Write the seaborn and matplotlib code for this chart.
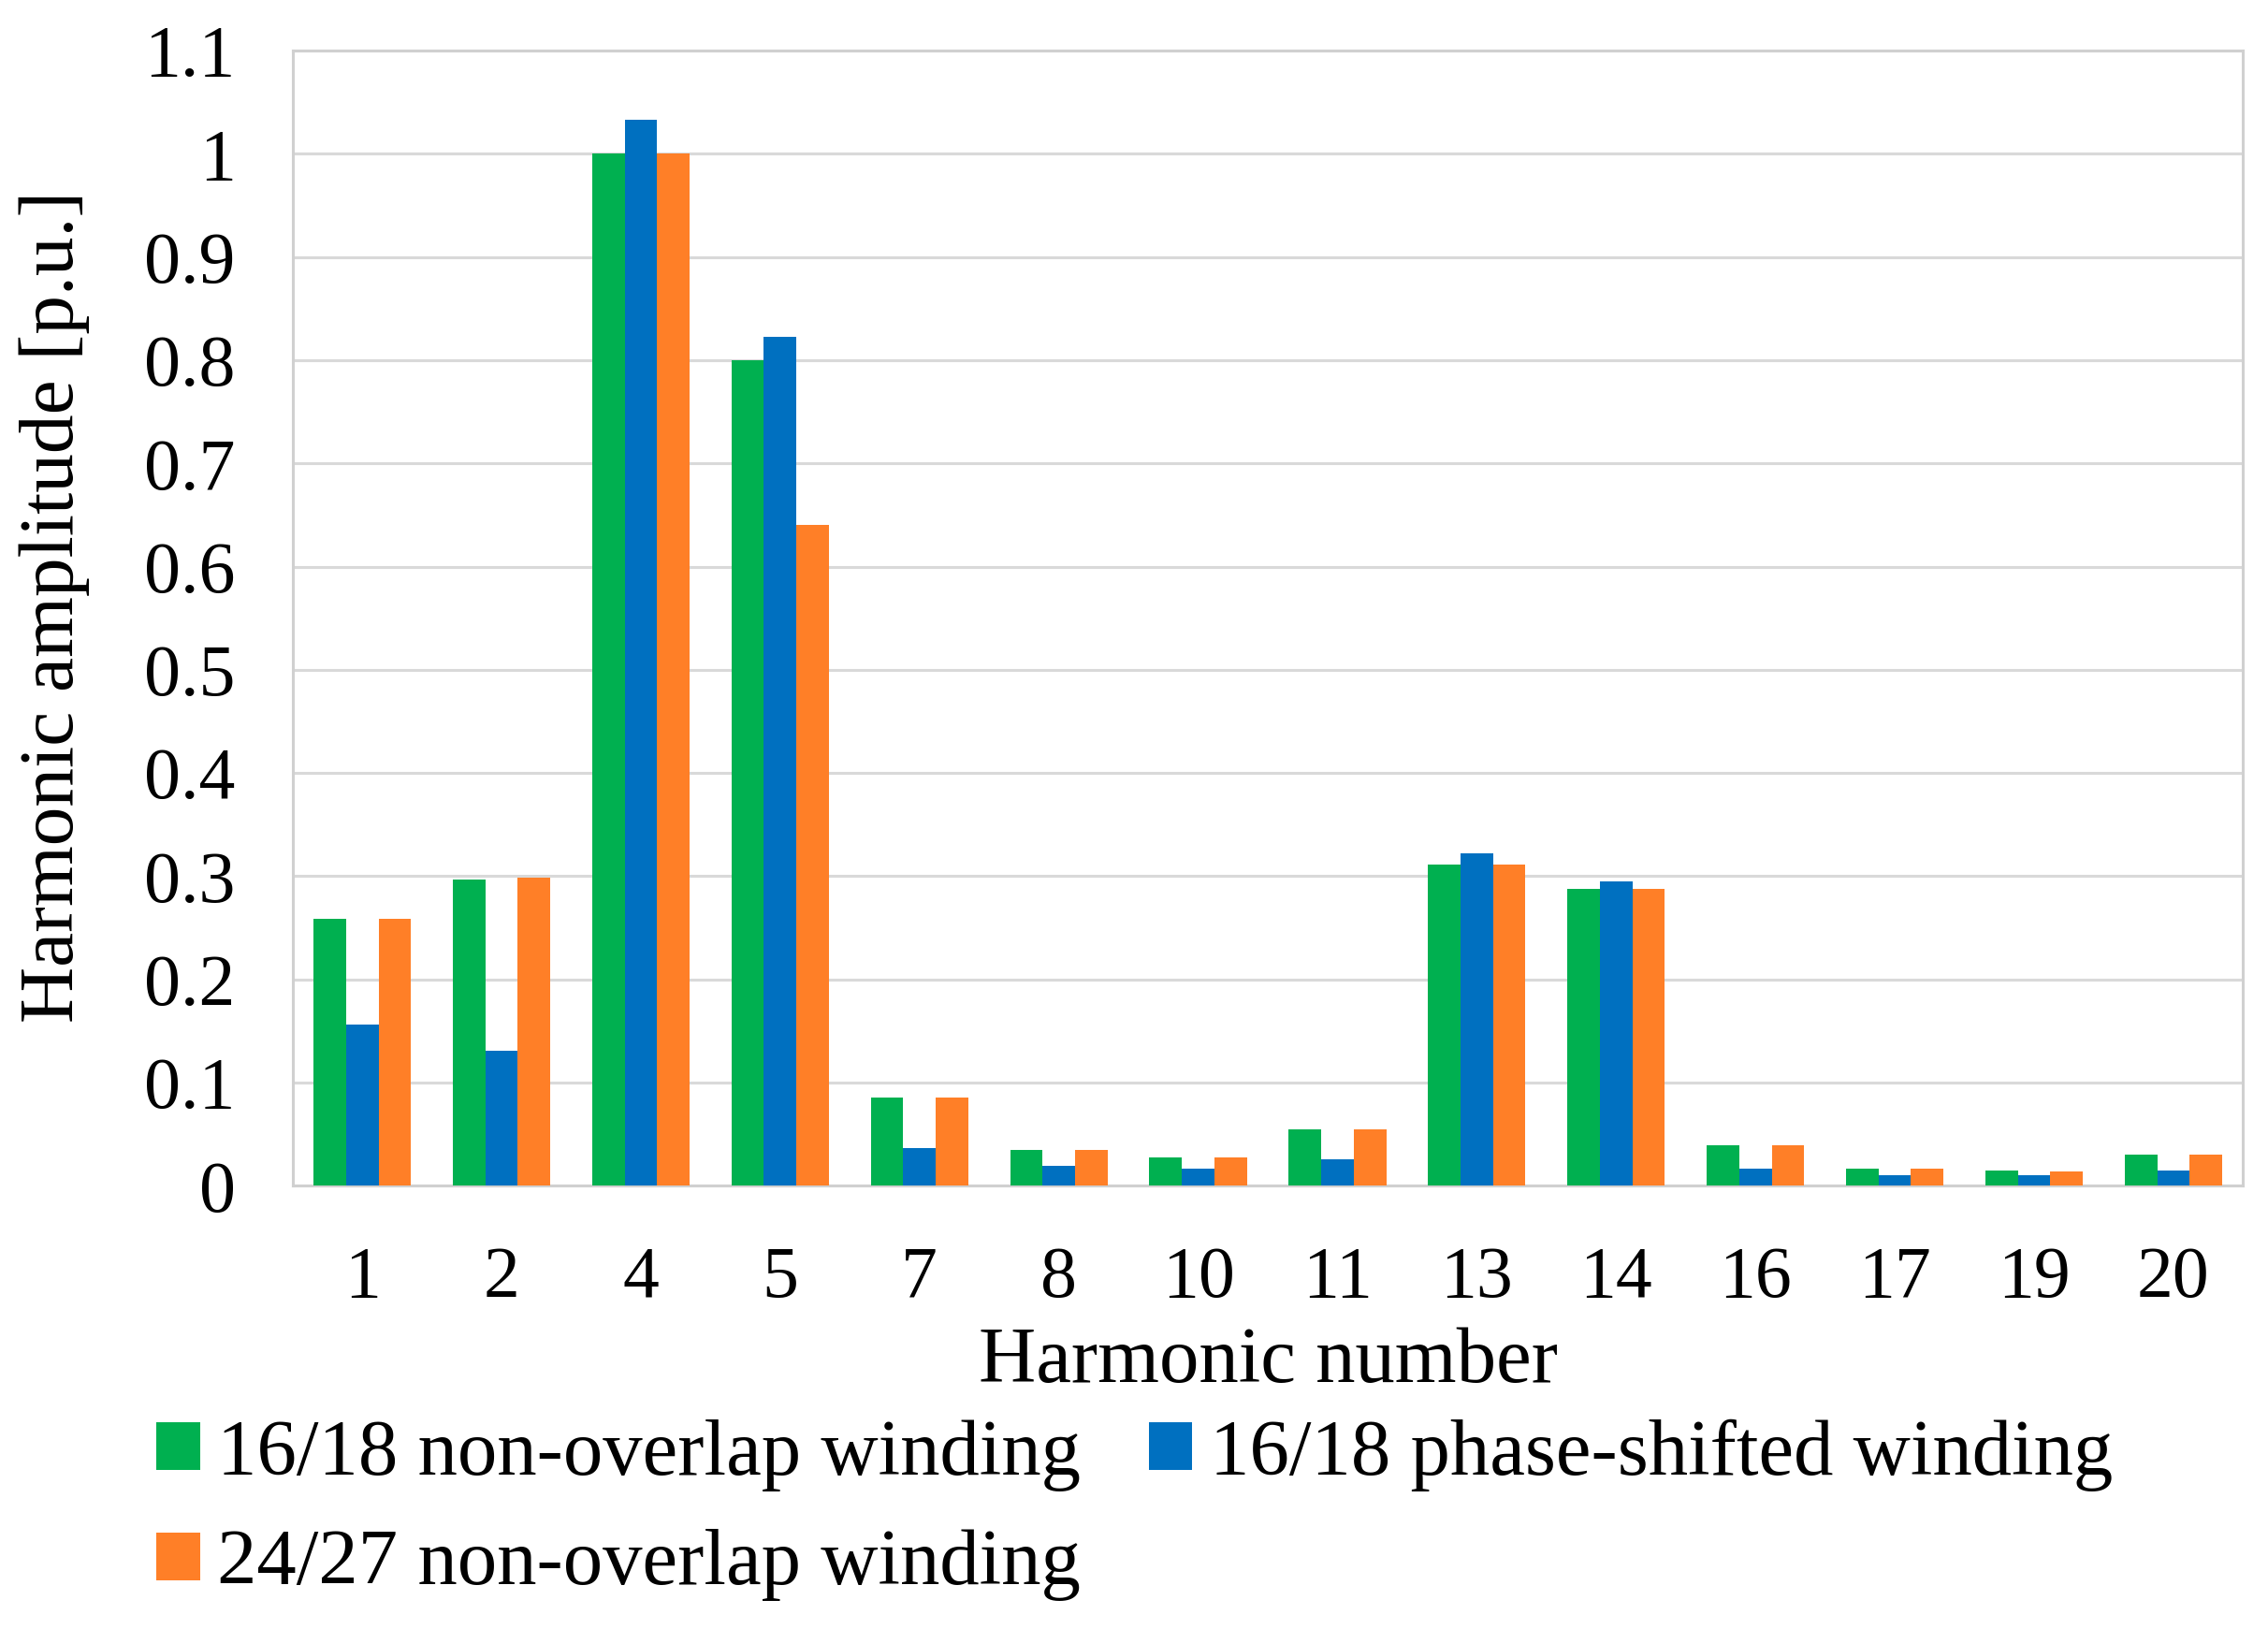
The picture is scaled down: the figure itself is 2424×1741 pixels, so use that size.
import numpy as np
import pandas as pd
import seaborn as sns
from matplotlib import pyplot as plt

harmonics = ["1", "2", "4", "5", "7", "8", "10", "11", "13", "14", "16", "17", "19", "20"]
non_overlap_16_18 = [0.259, 0.297, 1.0, 0.80, 0.086, 0.035, 0.028, 0.055, 0.311, 0.288, 0.039, 0.017, 0.015, 0.030]
phase_shifted_16_18 = [0.156, 0.131, 1.033, 0.823, 0.037, 0.019, 0.017, 0.026, 0.322, 0.295, 0.017, 0.010, 0.010, 0.015]
non_overlap_24_27 = [0.259, 0.299, 1.0, 0.64, 0.086, 0.035, 0.028, 0.055, 0.311, 0.288, 0.039, 0.017, 0.014, 0.030]

series_names = [
    "16/18 non-overlap winding",
    "16/18 phase-shifted winding",
    "24/27 non-overlap winding",
]
colors = ["#00B050", "#0070C0", "#FF7F27"]

df = pd.concat(
    [
        pd.DataFrame({"harmonic": harmonics, "amp": vals, "winding": name})
        for name, vals in zip(
            series_names, [non_overlap_16_18, phase_shifted_16_18, non_overlap_24_27]
        )
    ],
    ignore_index=True,
)

sns.set_style("white")
plt.rcParams["font.family"] = ["Liberation Serif", "DejaVu Serif"]
plt.rcParams["text.color"] = "black"
plt.rcParams["axes.labelcolor"] = "black"
plt.rcParams["xtick.color"] = "black"
plt.rcParams["ytick.color"] = "black"

fig = plt.figure(figsize=(24.24, 17.41), dpi=100)
ax = fig.add_axes([0.129, 0.272, 0.86, 0.697])
sns.barplot(
    data=df,
    x="harmonic",
    y="amp",
    hue="winding",
    order=harmonics,
    hue_order=series_names,
    palette=colors,
    width=0.7,
    saturation=1,
    errorbar=None,
    linewidth=0,
    ax=ax,
    zorder=3,
)

ax.set_ylim(0, 1.1)
ax.set_yticks(np.arange(0, 1.11, 0.1))
ax.set_yticklabels(["0", "0.1", "0.2", "0.3", "0.4", "0.5", "0.6", "0.7", "0.8", "0.9", "1", "1.1"])
ax.set_xlim(-0.5, len(harmonics) - 0.5)
ax.yaxis.grid(True, color="#d9d9d9", linewidth=2.2, zorder=0)
ax.set_axisbelow(True)
for side in ["left", "right", "top", "bottom"]:
    ax.spines[side].set_visible(True)
    ax.spines[side].set_color("#d0d0d0")
    ax.spines[side].set_linewidth(2.2)
ax.tick_params(axis="y", length=0, labelsize=56, pad=44)
ax.tick_params(axis="x", length=0, labelsize=56, pad=46)

ax.set_xlabel("Harmonic number", fontsize=61)
ax.set_ylabel("Harmonic amplitude [p.u.]", fontsize=60)
ax.xaxis.set_label_coords(0.5, -0.124)
ax.yaxis.set_label_coords(-0.104, 0.51)

handles, labels = ax.get_legend_handles_labels()
ax.get_legend().remove()
order = [0, 2, 1]
fig.legend(
    [handles[i] for i in order],
    [labels[i] for i in order],
    loc="upper left",
    bbox_to_anchor=(0.069, 0.129),
    ncol=2,
    frameon=False,
    fontsize=61,
    borderpad=0,
    borderaxespad=0,
    handlelength=0.55,
    handleheight=0.55,
    handletextpad=0.22,
    columnspacing=0.85,
    labelspacing=0.48,
)

fig.savefig("out.png", dpi=100)
